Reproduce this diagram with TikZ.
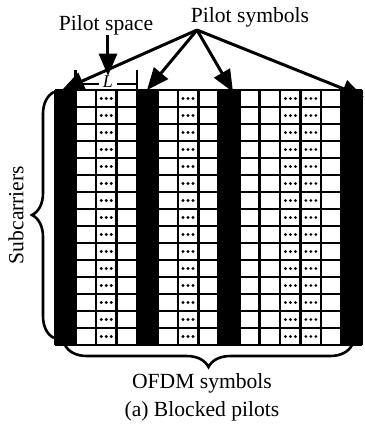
\documentclass[tikz,border=0pt]{standalone}
\usepackage{fontspec}
\setmainfont{Liberation Serif}
\usetikzlibrary{arrows.meta,positioning,calc,decorations.pathreplacing}
% three dots in the middle of one data cell: column, row
\newcommand{\DotCell}[2]{%
  \foreach \k in {-5,0,5}
    \fill ({55+(#1+0.5)*\cw+\k},{90+(#2+0.5)*\rh}) circle (1.6);
}

\begin{document}
\begin{tikzpicture}[x=0.5pt,y=-0.5pt,
  gridline/.style={line width=1.3pt},
  pointer/.style={-{Triangle[length=11pt,width=9pt]}, line width=1.5pt},
  bracket/.style={decorate, decoration={brace, amplitude=11pt}, line width=1.3pt},
  lbl/.style={font=\fontsize{10.8}{12}\selectfont, inner sep=0pt}]
  \useasboundingbox (0,0) rectangle (365,430);
  \def\cw{20.47}\def\rh{17}
  % 0 = empty, 1 = data with dots, 2 = pilot symbol
  \foreach \t [count=\i from 0] in {2,0,1,0,2,0,1,0,2,0,0,1,1,0,2}{
    \ifnum\t=2
      \fill ({55+\i*\cw},90) rectangle ({55+(\i+1)*\cw},345);
    \fi
    \ifnum\t=1
      \foreach \r in {0,...,14} {\DotCell{\i}{\r}}
    \fi
  }
  \foreach \i in {0,...,15}
    \draw[gridline] ({55+\i*\cw},90) -- ({55+\i*\cw},345);
  \foreach \r in {0,...,15}
    \draw[gridline] (55,{90+\r*\rh}) -- (362,{90+\r*\rh});

  % pilot spacing L
  \draw[gridline] ({55+\cw},70) -- ({55+\cw},92);
  \draw[gridline] ({55+4*\cw},70) -- ({55+4*\cw},92);
  \draw[gridline] ({55+\cw},84) -- ({55+4*\cw},84);
  \node[lbl, fill=white, inner xsep=2pt, font=\fontsize{9}{10}\selectfont\itshape] (L) at (108,82) {L};

  % labels
  \node[lbl] (space) at (106,25) {Pilot space};
  \node[lbl] (symb) at (250,17) {Pilot symbols};
  \node[lbl, rotate=90] (subc) at (16,215) {Subcarriers};
  \node[lbl] (ofdm) at (202,383) {OFDM symbols};
  \node[lbl] (cap) at (202,411) {(a) Blocked pilots};

  % arrows
  \coordinate (hub) at (197,30);
  \coordinate (p1) at (62,90);
  \coordinate (p2) at (147,90);
  \coordinate (p3) at (233,92);
  \coordinate (p4) at (364,97);
  \foreach \p in {p1,p2,p3,p4}
    \draw[pointer] (hub) -- (\p);
  \draw[pointer] (space.south -| L.north) -- (L.north);

  % braces
  \draw[bracket] (54,338) -- (54,92);
  \draw[bracket] (352,345) -- (65,345);
\end{tikzpicture}
\end{document}
